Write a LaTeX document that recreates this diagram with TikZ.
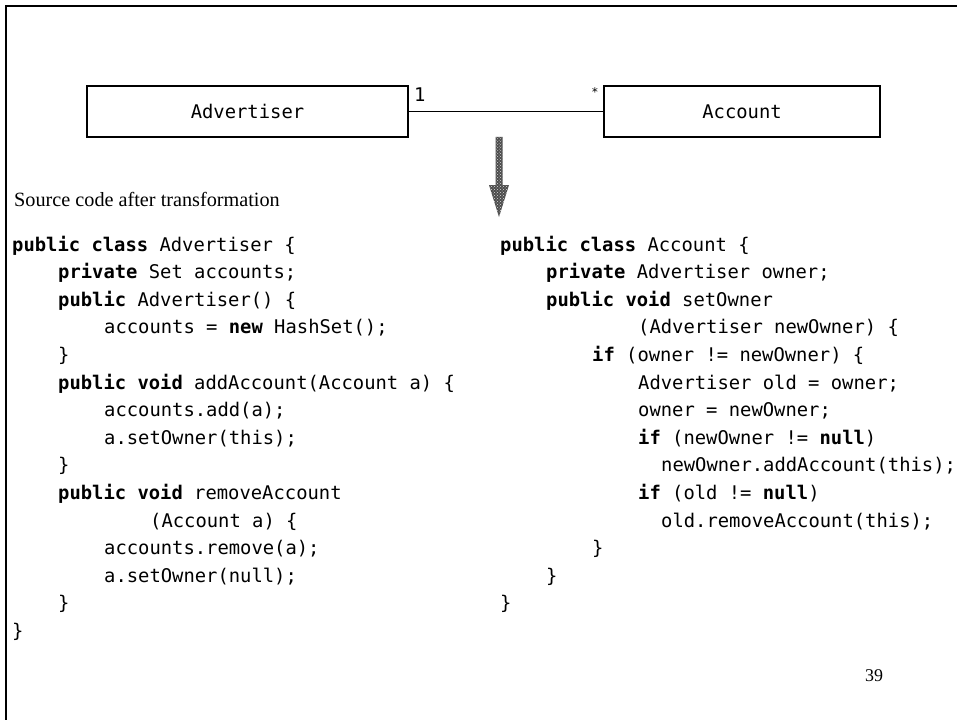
\documentclass[tikz,border=0pt]{standalone}
\usepackage{fontspec}
\setmainfont{Liberation Serif}
\newfontfamily\codefont{DejaVu Sans Mono}
\usetikzlibrary{patterns}
\newcommand{\kw}[1]{\textbf{#1}}

\begin{document}
\begin{tikzpicture}[x=1bp,y=-1bp]
\useasboundingbox (0,0) rectangle (957,720);
\tikzset{
  code/.style={anchor=base west, inner sep=0pt,
    font=\codefont\fontsize{18.9}{22}\selectfont},
  classbox/.style={draw, line width=1.1bp, minimum height=51bp,
    inner sep=0pt, font=\codefont\fontsize{18.9}{22}\selectfont},
  frameline/.style={line width=2.5bp},
  assoc/.style={line width=1.1bp},
  mult/.style={inner sep=0pt, font=\codefont\fontsize{18.9}{22}\selectfont},
}

% page frame (top and left edges)
\draw[frameline] (957,6) -- (6,6) -- (6,720);

% class diagram
\node[classbox, minimum width=321bp] (adv) at (247.5,111.5) {Advertiser};
\node[classbox, minimum width=276bp] (acc) at (742,111.5) {Account};
\draw[assoc] (adv.east) -- (acc.west);
\node[mult, anchor=base west] (m1) at (414,102) {1};
\node[mult, anchor=center, font=\codefont\fontsize{12}{13}\selectfont] (m2) at (595,92) {*};

% transformation arrow, stippled grey
\path[fill=gray!60!black, pattern color=white]
  (495.5,137) -- (502.5,137) -- (502.5,185) -- (509,185)
  -- (499,217) -- (489,185) -- (495.5,185) -- cycle;
\path[pattern=crosshatch dots, pattern color=gray!30]
  (495.5,137) -- (502.5,137) -- (502.5,185) -- (509,185)
  -- (499,217) -- (489,185) -- (495.5,185) -- cycle;

% caption
\node[anchor=base west, inner sep=0pt, font=\fontsize{20.3}{22}\selectfont] (cap)
  at (14,206) {Source code after transformation};

% Advertiser source
\node[code] (l1)  at (12,251)    {\kw{public class} Advertiser \{};
\node[code] (l2)  at (58,278.6)  {\kw{private} Set accounts;};
\node[code] (l3)  at (58,306.2)  {\kw{public} Advertiser() \{};
\node[code] (l4)  at (104,333.8) {accounts = \kw{new} HashSet();};
\node[code] (l5)  at (58,361.4)  {\}};
\node[code] (l6)  at (58,389)    {\kw{public void} addAccount(Account a) \{};
\node[code] (l7)  at (104,416.6) {accounts.add(a);};
\node[code] (l8)  at (104,444.2) {a.setOwner(this);};
\node[code] (l9)  at (58,471.8)  {\}};
\node[code] (l10) at (58,499.4)  {\kw{public void} removeAccount};
\node[code] (l11) at (150,527)   {(Account a) \{};
\node[code] (l12) at (104,554.6) {accounts.remove(a);};
\node[code] (l13) at (104,582.2) {a.setOwner(null);};
\node[code] (l14) at (58,609.8)  {\}};
\node[code] (l15) at (12,637.4)  {\}};

% Account source
\node[code] (r1)  at (500,251)   {\kw{public class} Account \{};
\node[code] (r2)  at (546,278.6) {\kw{private} Advertiser owner;};
\node[code] (r3)  at (546,306.2) {\kw{public void} setOwner};
\node[code] (r4)  at (638,333.8) {(Advertiser newOwner) \{};
\node[code] (r5)  at (592,361.4) {\kw{if} (owner != newOwner) \{};
\node[code] (r6)  at (638,389)   {Advertiser old = owner;};
\node[code] (r7)  at (638,416.6) {owner = newOwner;};
\node[code] (r8)  at (638,444.2) {\kw{if} (newOwner != \kw{null})};
\node[code] (r9)  at (661,471.8) {newOwner.addAccount(this);};
\node[code] (r10) at (638,499.4) {\kw{if} (old != \kw{null})};
\node[code] (r11) at (661,527)   {old.removeAccount(this);};
\node[code] (r12) at (592,554.6) {\}};
\node[code] (r13) at (546,582.2) {\}};
\node[code] (r14) at (500,609.8) {\}};

% page number
\node[anchor=base west, inner sep=0pt, font=\fontsize{18}{20}\selectfont] (pg)
  at (865,681) {39};
\end{tikzpicture}
\end{document}
